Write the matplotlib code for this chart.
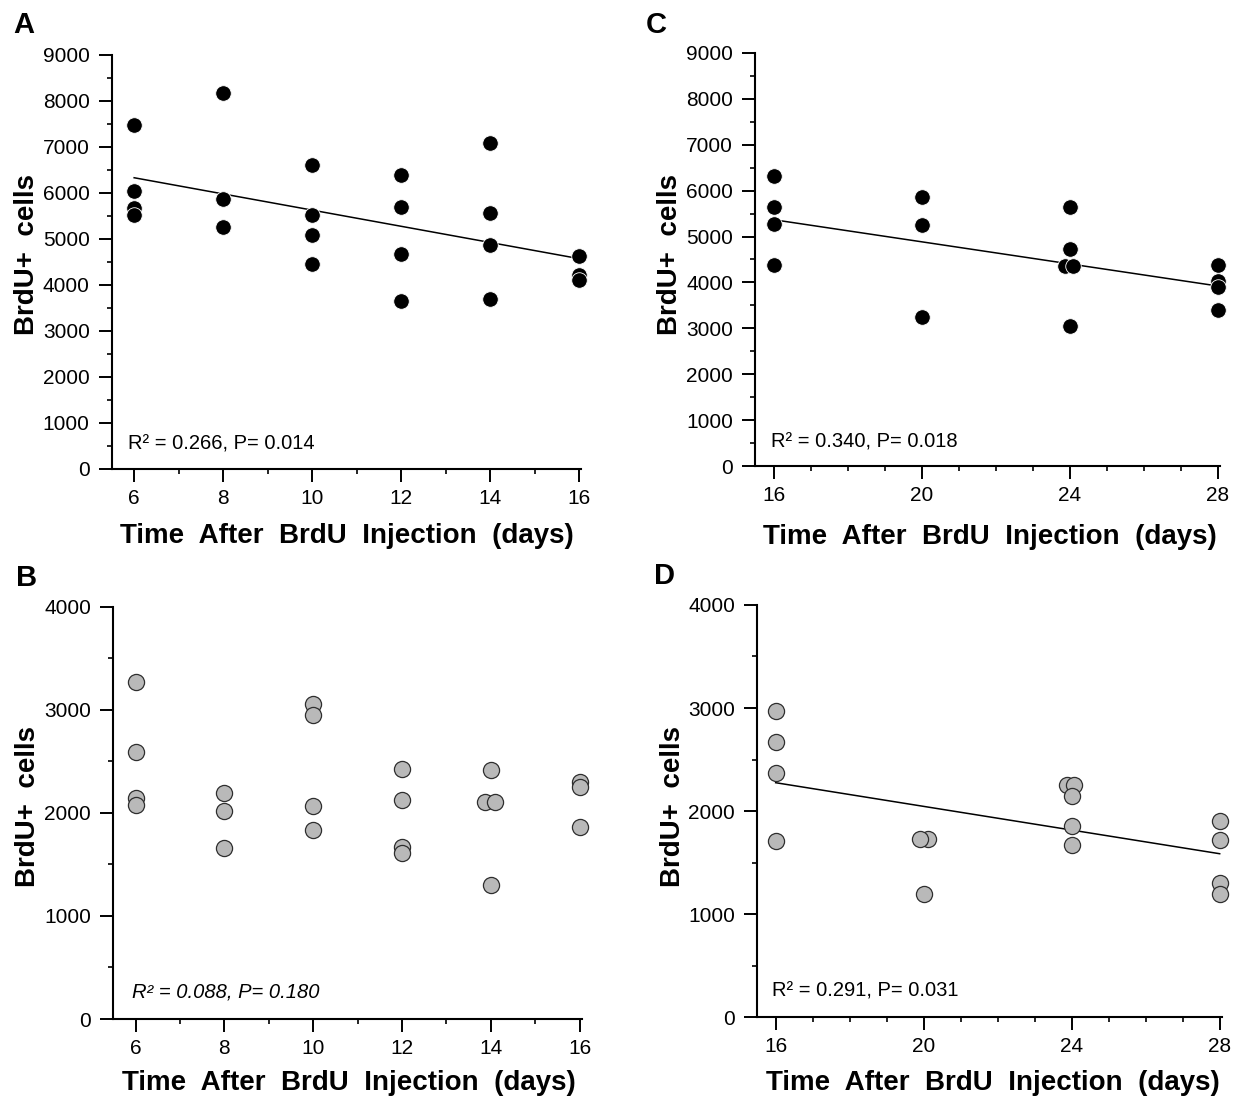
import matplotlib
matplotlib.use("Agg")
import matplotlib.pyplot as plt
from matplotlib.ticker import MultipleLocator
import numpy as np

plt.rcParams['font.family'] = ['Liberation Sans', 'DejaVu Sans']

# panel A: 6-16 days, black dots
a_days = [6, 6, 6, 6, 8, 8, 8, 10, 10, 10, 10, 12, 12, 12, 12,
          14, 14, 14, 14, 16, 16, 16]
a_cells = [7470, 6040, 5670, 5520, 8170, 5870, 5260, 6600, 5530, 5080, 4460,
           6400, 5700, 4680, 3660, 7080, 5560, 4860, 3700, 4640, 4220, 4110]

# panel B: 6-16 days, grey dots
b_days = [6, 6, 6, 6, 8, 8, 8, 10, 10, 10, 10, 12, 12, 12, 12,
          14, 13.88, 14.09, 14, 16, 16, 16]
b_cells = [3270, 2590, 2150, 2080, 2190, 2020, 1660, 3060, 2950, 2070, 1830,
           2430, 2130, 1670, 1610, 2420, 2110, 2110, 1300, 2300, 2250, 1860]

# panel C: 16-28 days, black dots
c_days = [16, 16, 16, 16, 20, 20, 20, 24, 24, 23.88, 24.08, 24,
          28, 28, 28, 28]
c_cells = [6310, 5650, 5270, 4390, 5870, 5260, 3250, 5640, 4720, 4350, 4350,
           3060, 4390, 4030, 3900, 3400]

# panel D: 16-28 days, grey dots
d_days = [16, 16, 16, 16, 20.11, 19.89, 20, 23.86, 24.07, 24, 24, 24,
          28, 28, 28, 28]
d_cells = [2970, 2670, 2370, 1710, 1730, 1730, 1195, 2250, 2250, 2150, 1850,
           1670, 1900, 1720, 1300, 1190]

stats = {'A': 'R² = 0.266, P= 0.014', 'B': 'R² = 0.088, P= 0.180',
         'C': 'R² = 0.340, P= 0.018', 'D': 'R² = 0.291, P= 0.031'}

fig = plt.figure(figsize=(12.35, 10.97), dpi=100)

panels = [
    # letter, rect, days, cells, xlim, ytop, xmajor, black?, fit?, text xy, italic,
    # letter px, ylabel x/y, xlabel x/y
    ('A', [0.0906, 0.5725, 0.3802, 0.3774], a_days, a_cells, (5.5, 16.05), 9000, 2, True, True,
     (0.034, 0.048), False, (23.5, 25), (-0.181, 0.517), (0.500, -0.162)),
    ('B', [0.0918, 0.0711, 0.3793, 0.3756], b_days, b_cells, (5.5, 16.05), 4000, 2, False, False,
     (0.039, 0.051), True, (26.7, 578), (-0.183, 0.516), (0.503, -0.155)),
    ('C', [0.6115, 0.5752, 0.3760, 0.3765], c_days, c_cells, (15.5, 28.05), 9000, 4, True, True,
     (0.034, 0.046), False, (656, 25), (-0.183, 0.512), (0.505, -0.172)),
    ('D', [0.6131, 0.0729, 0.3760, 0.3756], d_days, d_cells, (15.5, 28.05), 4000, 4, False, True,
     (0.032, 0.049), False, (664, 575.5), (-0.181, 0.512), (0.507, -0.160)),
]

for (let, rect, xs, ys, xlim, ytop, xmaj, black, fit, txy, ital,
     lxy, ylc, xlc) in panels:
    ax = fig.add_axes(rect)
    xs = np.array(xs, dtype=float)
    ys = np.array(ys, dtype=float)

    if fit:
        k, b = np.polyfit(xs, ys, 1)
        lx = np.array([xs.min(), xs.max()])
        ax.plot(lx, k * lx + b, color='black', lw=1.1, zorder=2)

    if black:
        ax.scatter(xs, ys, s=125, color='black', edgecolors='white',
                   linewidths=0.6, zorder=3, clip_on=False)
    else:
        ax.scatter(xs, ys, s=135, color='#b9b9b9', edgecolors='#2e2e2e',
                   linewidths=0.9, zorder=3, clip_on=False)

    ax.set_xlim(*xlim)
    ax.set_ylim(0, ytop)
    ax.xaxis.set_major_locator(MultipleLocator(xmaj))
    ax.xaxis.set_minor_locator(MultipleLocator(1))
    ax.yaxis.set_major_locator(MultipleLocator(1000))
    ax.yaxis.set_minor_locator(MultipleLocator(500))

    for s in ['top', 'right']:
        ax.spines[s].set_visible(False)
    for s in ['left', 'bottom']:
        ax.spines[s].set_linewidth(1.5)
    ax.tick_params(which='major', direction='out', length=9.5, width=1.4,
                   labelsize=15, pad=5)
    ax.tick_params(axis='y', which='major', pad=6.5)
    ax.tick_params(which='minor', direction='out', length=3.5, width=1.2)

    ax.set_ylabel('BrdU+  cells', fontsize=20, fontweight='bold')
    ax.yaxis.label.set_va('center')
    ax.yaxis.set_label_coords(*ylc)
    ax.set_xlabel('Time  After  BrdU  Injection  (days)', fontsize=20,
                  fontweight='bold')
    ax.xaxis.label.set_va('center')
    ax.xaxis.set_label_coords(*xlc)

    ax.text(txy[0], txy[1], stats[let], transform=ax.transAxes,
            fontsize=14.5, style='italic' if ital else 'normal',
            ha='left', va='baseline')

    fig.text(lxy[0] / 1235, 1 - lxy[1] / 1097, let, fontsize=21,
             fontweight='bold', ha='center', va='center')

fig.savefig('out.png', dpi=100)
